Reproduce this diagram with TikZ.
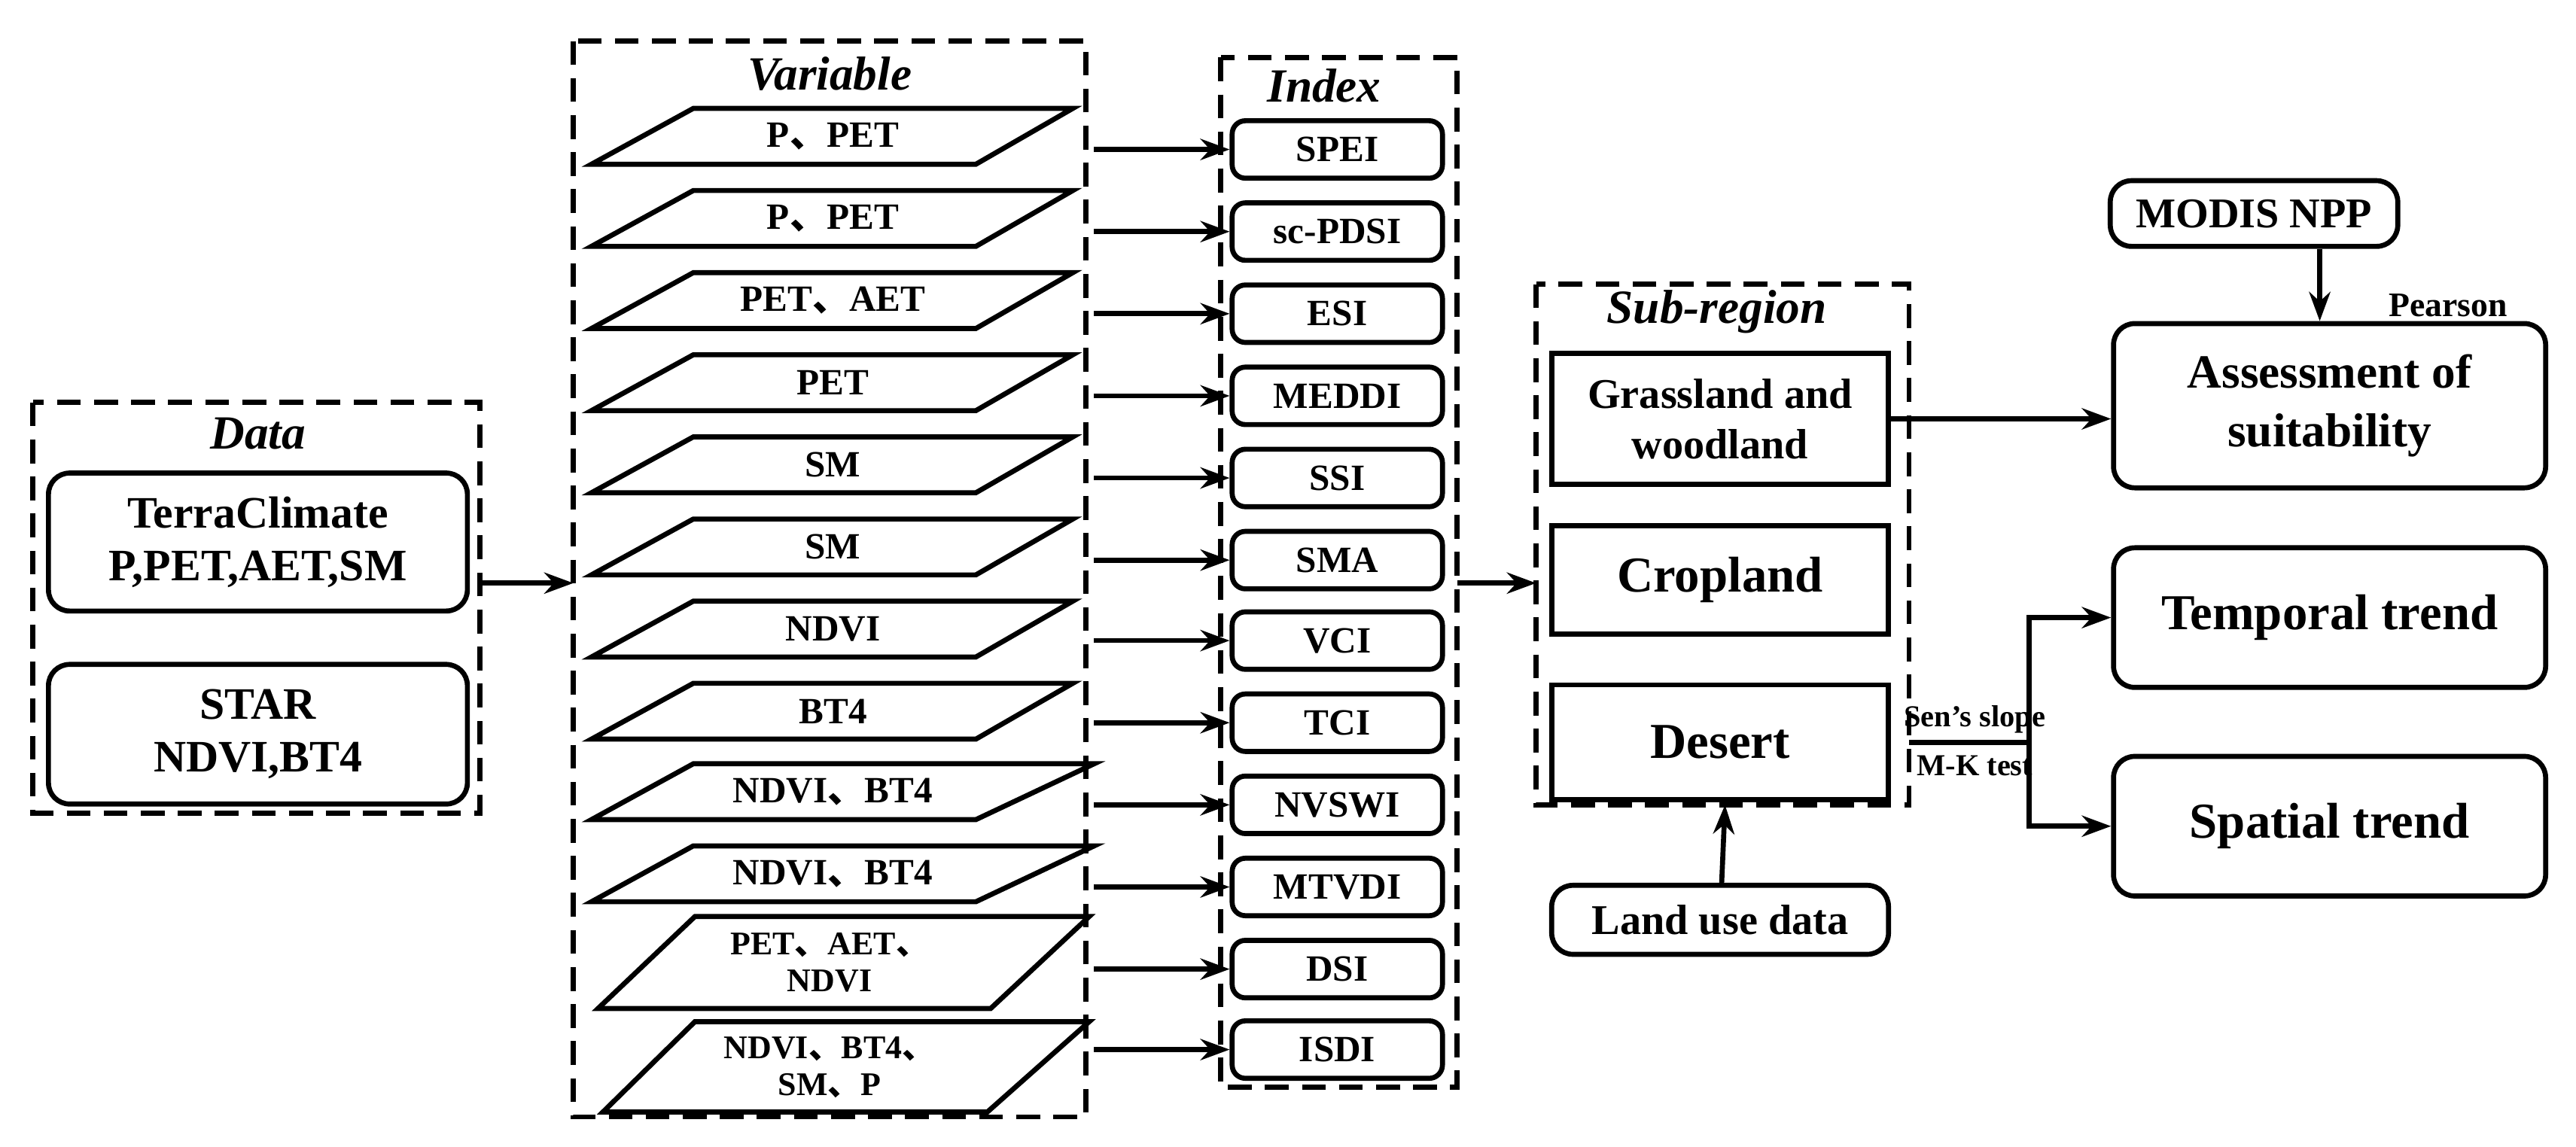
\documentclass[tikz,border=0pt]{standalone}
\usepackage{fontspec}
\setmainfont{Liberation Serif}
\newfontfamily\cjkf{Noto Sans CJK SC}
\newcommand\dn{{\cjkf 、}}
\usetikzlibrary{arrows.meta}
\begin{document}
\begin{tikzpicture}[x=0.02182cm,y=-0.02182cm,
  dbox/.style={draw,line width=1.9pt,dash pattern=on 9pt off 5pt},
  rbox/.style={draw,line width=1.9pt,rounded corners=8pt,align=center,font=\bfseries\fontsize{16}{18}\selectfont},
  sbox/.style={draw,line width=1.9pt,align=center,font=\bfseries\fontsize{16}{19}\selectfont},
  ibox/.style={draw,line width=1.9pt,rounded corners=5pt,font=\bfseries\fontsize{14}{16}\selectfont},
  ttl/.style={font=\bfseries\itshape\fontsize{18}{20}\selectfont},
  ptxt/.style={align=center,font=\bfseries\fontsize{14}{16}\selectfont},
  arr/.style={-{Stealth[length=11pt,width=8pt]},line width=1.9pt},
  ln/.style={line width=1.9pt},
  lab/.style={font=\bfseries\fontsize{11.5}{13}\selectfont}]
\useasboundingbox (0,0) rectangle (1568,698);
% Data
\draw[dbox] (20,245) rectangle (292,495);
\coordinate (dataE) at (292,355);
\node[ttl] (datat) at (157,264) {Data};
\node[rbox,minimum width=255*0.02182cm,minimum height=84*0.02182cm,font=\bfseries\fontsize{17}{20}\selectfont] (terra) at (157,330) {TerraClimate\\P,PET,AET,SM};
\node[rbox,minimum width=255*0.02182cm,minimum height=85*0.02182cm,font=\bfseries\fontsize{17}{20}\selectfont] (star) at (157,447) {STAR\\NDVI,BT4};
% Variable
\draw[dbox] (349,25) rectangle (661,680);
\coordinate (varW) at (349,355);
\node[ttl] (vart) at (505,45) {Variable};
\foreach \y/\t/\r [count=\i] in {83/P\dn PET/653,133/P\dn PET/653,183/PET\dn AET/653,233/PET/653,283/SM/653,333/SM/653,383/NDVI/653,433/BT4/653,482/NDVI\dn BT4/666,532/NDVI\dn BT4/666}{
  \node[ptxt] (v\i) at (507,\y) {\t};
  \draw[ln] (422,\y-17) -- (\r,\y-17) -- (594,\y+17) -- (360,\y+17) -- cycle;
}
\node[ptxt,font=\bfseries\fontsize{12.5}{14}\selectfont] (v11) at (505,586) {PET\dn AET\dn\\NDVI};
\draw[ln] (423,558) -- (663,558) -- (603,614) -- (364,614) -- cycle;
\node[ptxt,font=\bfseries\fontsize{12.5}{14}\selectfont] (v12) at (505,650) {NDVI\dn BT4\dn\\SM\dn P};
\draw[ln] (423,622) -- (663,622) -- (601,677) -- (367,677) -- cycle;
% Index
\draw[dbox] (743,35) rectangle (887,662);
\node[ttl] (idxt) at (806,52) {Index};
\foreach \y/\t [count=\i] in {91/SPEI,141/sc-PDSI,191/ESI,241/MEDDI,291/SSI,341/SMA,390/VCI,440/TCI,490/NVSWI,540/MTVDI,590/DSI,639/ISDI}{
  \node[ibox,minimum width=128*0.02182cm,minimum height=35*0.02182cm] (x\i) at (814,\y) {\t};
  \coordinate (a\i) at (666,\y);
  \draw[arr] (a\i) -- (x\i.west);
}
\coordinate (idxE) at (887,355);
\draw[arr] (dataE) -- (varW);
% Sub-region
\draw[dbox] (935,173) rectangle (1162,490);
\coordinate (subW) at (935,355);
\coordinate (subS) at (1050,490);
\draw[arr] (idxE) -- (subW);
\node[ttl] (subt) at (1045,190) {Sub-region};
\node[sbox,minimum width=205*0.02182cm,minimum height=80*0.02182cm,font=\bfseries\fontsize{16}{19}\selectfont] (grass) at (1047,255) {Grassland and\\woodland};
\node[sbox,minimum width=205*0.02182cm,minimum height=66*0.02182cm,font=\bfseries\fontsize{19}{21}\selectfont] (crop) at (1047,353) {Cropland};
\node[sbox,minimum width=205*0.02182cm,minimum height=70*0.02182cm,font=\bfseries\fontsize{19}{21}\selectfont] (desert) at (1047,452) {Desert};
\node[rbox,minimum width=205*0.02182cm,minimum height=42*0.02182cm] (land) at (1047,560) {Land use data};
\draw[arr] (land) -- (subS);
% Right
\node[rbox,minimum width=175*0.02182cm,minimum height=40*0.02182cm] (modis) at (1372,130) {MODIS NPP};
\node[rbox,minimum width=263*0.02182cm,minimum height=100*0.02182cm,font=\bfseries\fontsize{18}{22}\selectfont] (assess) at (1418,247) {Assessment of\\suitability};
\draw[arr] (modis.south -| 1412,0) -- (assess.north -| 1412,0);
\node[lab,font=\bfseries\fontsize{13}{15}\selectfont] (pear) at (1490,186) {Pearson};
\draw[arr] (grass.east) -- (assess.west |- grass.east);
\node[rbox,minimum width=263*0.02182cm,minimum height=85*0.02182cm,font=\bfseries\fontsize{19}{22}\selectfont] (temp) at (1418,376) {Temporal trend};
\node[rbox,minimum width=263*0.02182cm,minimum height=85*0.02182cm,font=\bfseries\fontsize{19}{22}\selectfont] (spat) at (1418,503) {Spatial trend};
\coordinate (j) at (1235,452);
\draw[ln] (desert.east -| 1162,0) -- (j);
\draw[arr] (j) -- (1235,376) -- (temp.west);
\draw[arr] (j) -- (1235,503) -- (spat.west);
\node[lab] (sen) at (1202,438) {Sen’s slope};
\node[lab] (mk) at (1202,466) {M-K test};
\end{tikzpicture}
\end{document}
